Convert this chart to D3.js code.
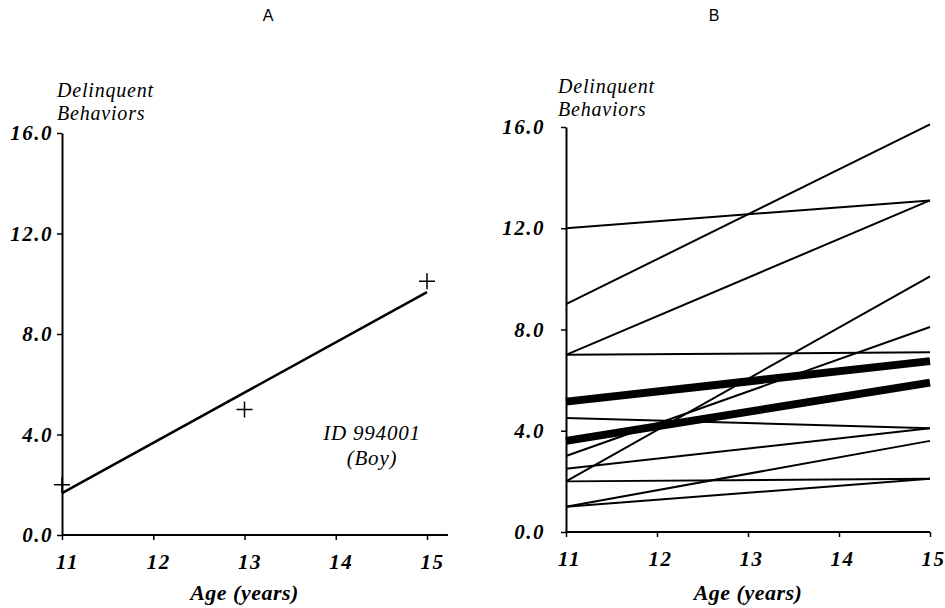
<!DOCTYPE html>
<html>
<head>
<meta charset="utf-8">
<script src="https://cdn.jsdelivr.net/npm/d3@7"></script>
<style>
  body { margin: 0; background: #fff; }
  .serif { font-family: "Liberation Serif", "Times New Roman", serif; font-style: italic; font-weight: bold; }
</style>
</head>
<body>
<div id="chart"></div>
<script>
// ages on the x axis, score ticks on the y axis
var ages = [11, 12, 13, 14, 15];
var scoreTicks = [0, 4, 8, 12, 16];

// panel A: one boy, observed scores and his fitted line
var caseAges = [11, 13, 15];
var caseScores = [2.0, 5.0, 10.1];
var fitAges = [11, 15];
var fitScores = [1.67, 9.67];

// panel B: fitted lines for several youths (age 11 -> age 15)
var startScores = [9.0, 12.0, 7.0, 2.0, 3.0, 7.0, 4.5, 2.5, 2.0, 1.0, 1.0];
var endScores = [16.1, 13.1, 13.1, 10.1, 8.1, 7.1, 4.1, 4.1, 2.1, 3.6, 2.1];

// panel B: the two heavy (group) lines
var meanStart = [5.15, 3.6];
var meanEnd = [6.75, 5.9];

(function() {

  'use strict'

  var svg = d3.select('#chart').append('svg')
    .attr('width', 945)
    .attr('height', 608);

  var panels = [
    { title: 'A', titleX: 268, left: 62, right: 427, bottom: 535, top: 133, axisEnd: 15.23, yPad: 4, xShift: 5, labelX: 57, labelY: 97 },
    { title: 'B', titleX: 714, left: 566, right: 930, bottom: 532, top: 127, axisEnd: 15, yPad: 16, xShift: 3, labelX: 558, labelY: 93 }
  ];

  function drawPanel(p) {
    var g = svg.append('g');
    var x = d3.scaleLinear().domain([11, 15]).range([p.left, p.right]);
    var y = d3.scaleLinear().domain([0, 16]).range([p.bottom, p.top]);

    g.append('text')
      .attr('x', p.titleX)
      .attr('y', 21)
      .attr('text-anchor', 'middle')
      .style('font-family', '"Liberation Sans", sans-serif')
      .style('font-size', '16px')
      .text(p.title);

    var xAxis = g.append('g')
      .attr('transform', 'translate(0,' + p.bottom + ')')
      .call(d3.axisBottom(x).tickValues(ages).tickFormat(d3.format('d'))
        .tickSize(5).tickSizeOuter(0).tickPadding(14));
    xAxis.select('.domain').remove();
    xAxis.append('line')
      .attr('x1', x(11))
      .attr('x2', x(p.axisEnd))
      .attr('stroke', '#000')
      .attr('stroke-width', 2);

    var yAxis = g.append('g')
      .attr('transform', 'translate(' + p.left + ',0)')
      .call(d3.axisLeft(y).tickValues(scoreTicks).tickFormat(d3.format('.1f'))
        .tickSize(5).tickSizeOuter(0).tickPadding(p.yPad));
    yAxis.select('.domain').attr('stroke-width', 2);

    [xAxis, yAxis].forEach(function(ax) {
      ax.attr('font-family', null).attr('font-size', null);
      ax.selectAll('text')
        .attr('class', 'serif')
        .style('font-size', '21px')
        .style('letter-spacing', '1.5px');
      ax.selectAll('.tick line').attr('stroke-width', 1.5);
    });
    xAxis.selectAll('text').attr('dx', p.xShift);

    g.append('text')
      .attr('class', 'serif')
      .attr('x', (p.left + p.right) / 2)
      .attr('y', 600)
      .attr('text-anchor', 'middle')
      .style('font-size', '22px')
      .style('letter-spacing', '0.5px')
      .text('Age (years)');

    ['Delinquent', 'Behaviors'].forEach(function(t, i) {
      g.append('text')
        .attr('class', 'serif')
        .attr('x', p.labelX)
        .attr('y', p.labelY + i * 23)
        .style('font-size', '20px')
        .style('font-weight', 'normal')
        .style('letter-spacing', '0.8px')
        .text(t);
    });

    return { g: g, x: x, y: y };
  }

  var a = drawPanel(panels[0]);
  var b = drawPanel(panels[1]);

  var line = function(s) {
    return d3.line().x(function(d) { return s.x(d[0]); }).y(function(d) { return s.y(d[1]); });
  };

  // panel A
  a.g.append('path')
    .datum(fitAges.map(function(d, i) { return [d, fitScores[i]]; }))
    .attr('d', line(a))
    .attr('fill', 'none')
    .attr('stroke', '#000')
    .attr('stroke-width', 2.5);

  a.g.selectAll('.obs')
    .data(caseAges.map(function(d, i) { return [d, caseScores[i]]; }))
    .enter().append('path')
    .attr('class', 'obs')
    .attr('transform', function(d) { return 'translate(' + a.x(d[0]) + ',' + a.y(d[1]) + ')'; })
    .attr('d', 'M-8,0H8M0,-8V8')
    .attr('stroke', '#000')
    .attr('stroke-width', 1.5);

  ['ID 994001', '(Boy)'].forEach(function(t, i) {
    a.g.append('text')
      .attr('class', 'serif')
      .attr('x', 372)
      .attr('y', 440 + i * 25)
      .attr('text-anchor', 'middle')
      .style('font-size', '21px')
      .style('font-weight', 'normal')
      .style('letter-spacing', '0.8px')
      .text(t);
  });

  // panel B
  b.g.selectAll('.youth')
    .data(startScores.map(function(d, i) { return [[11, d], [15, endScores[i]]]; }))
    .enter().append('path')
    .attr('class', 'youth')
    .attr('d', line(b))
    .attr('fill', 'none')
    .attr('stroke', '#000')
    .attr('stroke-width', 2);

  b.g.selectAll('.group')
    .data(meanStart.map(function(d, i) { return [[11, d], [15, meanEnd[i]]]; }))
    .enter().append('path')
    .attr('class', 'group')
    .attr('d', line(b))
    .attr('fill', 'none')
    .attr('stroke', '#000')
    .attr('stroke-width', 8);

})();
</script>
</body>
</html>
